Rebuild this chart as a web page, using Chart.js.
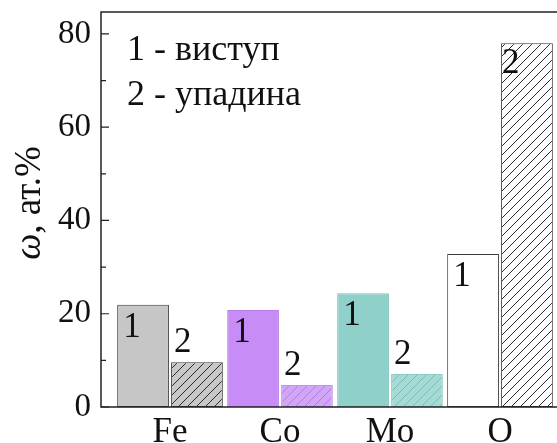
<!DOCTYPE html>
<html>
<head>
<meta charset="utf-8">
<script src="https://cdn.jsdelivr.net/npm/chart.js@4.4.1/dist/chart.umd.min.js"></script>
<style>
  html, body { margin: 0; padding: 0; background: #fff; }
  #wrap { width: 557px; height: 443px; overflow: hidden; }
</style>
</head>
<body>
<div id="wrap"><canvas id="barChart" width="557" height="443"></canvas></div>
<script>
// data
const categories = ['Fe', 'Co', 'Mo', 'O'];
const bumpValues = [21.9, 20.8, 24.4, 32.8];   // 1 - виступ
const hollowValues = [9.6, 4.7, 7.1, 78.0];    // 2 - упадина
const yTicks = [0, 20, 40, 60, 80];
const yMinorTicks = [10, 30, 50, 70];
const legendLines = ['1 - виступ', '2 - упадина'];

const serif = '"Liberation Serif", "DejaVu Serif", serif';

function hatch(bg, line) {
    const tile = document.createElement('canvas');
    tile.width = 9;
    tile.height = 9;
    const g = tile.getContext('2d');
    g.fillStyle = bg;
    g.fillRect(0, 0, 9, 9);
    g.strokeStyle = line;
    g.lineWidth = 1;
    g.beginPath();
    g.moveTo(0, 9); g.lineTo(9, 0);
    g.moveTo(-1, 1); g.lineTo(1, -1);
    g.moveTo(8, 10); g.lineTo(10, 8);
    g.stroke();
    return g.createPattern(tile, 'repeat');
}

const solidFill = ['#c6c6c6', '#c78cf5', '#8fd0ca', '#ffffff'];
const solidBorder = ['#3a3a3a', '#b77ce6', '#7cc2bc', '#3a3a3a'];
const hatchFill = [
    hatch('#c8c8c8', '#2a2a2a'),
    hatch('#d2a6f6', '#b47ae6'),
    hatch('#a6dad5', '#78bdb7'),
    hatch('#ffffff', '#2a2a2a')
];
const hatchBorder = ['#3a3a3a', '#c391f0', '#8fcbc5', '#3a3a3a'];

// frame, inward ticks, legend text, bar numbers, axis title
const decorPlugin = {
    id: 'decor',
    afterDatasetsDraw(chart) {
        const ctx = chart.ctx;
        const area = chart.chartArea;
        const y = chart.scales.y;
        ctx.save();
        ctx.strokeStyle = '#222';
        ctx.lineWidth = 1.5;
        ctx.beginPath();
        ctx.moveTo(area.right + 2, area.top);
        ctx.lineTo(area.left, area.top);
        ctx.lineTo(area.left, area.bottom);
        ctx.lineTo(area.right + 2, area.bottom);
        ctx.stroke();

        ctx.lineWidth = 1.2;
        ctx.beginPath();
        yTicks.forEach(v => {
            const py = y.getPixelForValue(v);
            ctx.moveTo(area.left, py);
            ctx.lineTo(area.left + 8, py);
        });
        yMinorTicks.forEach(v => {
            const py = y.getPixelForValue(v);
            ctx.moveTo(area.left, py);
            ctx.lineTo(area.left + 5, py);
        });
        ctx.stroke();

        // bar numbers
        ctx.fillStyle = '#111';
        ctx.font = '35px ' + serif;
        ctx.textAlign = 'left';
        chart.getDatasetMeta(0).data.forEach(bar => {
            const left = bar.x - bar.width / 2;
            ctx.textBaseline = 'top';
            ctx.fillText('1', left + 6, bar.y + 5);
        });
        chart.getDatasetMeta(1).data.forEach((bar, i) => {
            const left = bar.x - bar.width / 2;
            if (hollowValues[i] > 50) {
                ctx.textBaseline = 'top';
                ctx.fillText('2', left + 1, bar.y + 3);
            } else {
                ctx.textBaseline = 'alphabetic';
                ctx.fillText('2', left + 3, bar.y - 10);
            }
        });

        // legend text
        ctx.font = '36px ' + serif;
        ctx.textBaseline = 'alphabetic';
        legendLines.forEach((t, i) => {
            ctx.fillText(t, area.left + 26, 60 + i * 45);
        });

        // axis title
        ctx.translate(40, 203);
        ctx.rotate(-Math.PI / 2);
        ctx.textBaseline = 'alphabetic';
        ctx.font = 'italic 37px ' + serif;
        const omega = 'ω';
        const wOmega = ctx.measureText(omega).width;
        ctx.font = '37px ' + serif;
        const rest = ', ат.%';
        const wRest = ctx.measureText(rest).width;
        const start = -(wOmega + wRest) / 2;
        ctx.font = 'italic 37px ' + serif;
        ctx.fillText(omega, start, 0);
        ctx.font = '37px ' + serif;
        ctx.fillText(rest, start + wOmega, 0);
        ctx.restore();
    }
};

new Chart(document.getElementById('barChart'), {
    type: 'bar',
    data: {
        datasets: [{
            label: '1 - виступ',
            data: bumpValues.map((v, i) => ({ x: i + 1, y: v })),
            backgroundColor: solidFill,
            borderColor: solidBorder,
            borderWidth: 1,
            borderSkipped: false
        }, {
            label: '2 - упадина',
            data: hollowValues.map((v, i) => ({ x: i + 1, y: v })),
            backgroundColor: hatchFill,
            borderColor: hatchBorder,
            borderWidth: 1,
            borderSkipped: false
        }]
    },
    options: {
        responsive: false,
        animation: false,
        devicePixelRatio: 1,
        categoryPercentage: 0.98,
        barPercentage: 0.96,
        layout: { padding: { top: 12, right: 0, left: 0, bottom: 0 } },
        plugins: {
            legend: { display: false },
            tooltip: { enabled: false }
        },
        scales: {
            x: {
                type: 'linear',
                offset: false,
                min: 0.3727,
                max: 4.518,
                border: { display: false },
                grid: { display: false, drawTicks: false, offset: false },
                afterBuildTicks(scale) {
                    scale.ticks = categories.map((c, i) => ({ value: i + 1 }));
                },
                afterFit(scale) {
                    scale.height = 36;
                    scale.paddingLeft = 0;
                    scale.paddingRight = 0;
                },
                ticks: {
                    autoSkip: false,
                    maxRotation: 0,
                    padding: 5,
                    color: '#111',
                    font: { family: serif, size: 35 },
                    callback: v => categories[v - 1]
                }
            },
            y: {
                min: 0,
                max: 84.7,
                border: { display: false },
                grid: { display: false, drawTicks: false },
                afterBuildTicks(scale) {
                    scale.ticks = yTicks.map(v => ({ value: v }));
                },
                afterFit(scale) {
                    scale.width = 101;
                    scale.paddingTop = 0;
                    scale.paddingBottom = 0;
                },
                ticks: {
                    padding: 10,
                    color: '#111',
                    font: { family: serif, size: 33 }
                }
            }
        }
    },
    plugins: [decorPlugin]
});
</script>
</body>
</html>
